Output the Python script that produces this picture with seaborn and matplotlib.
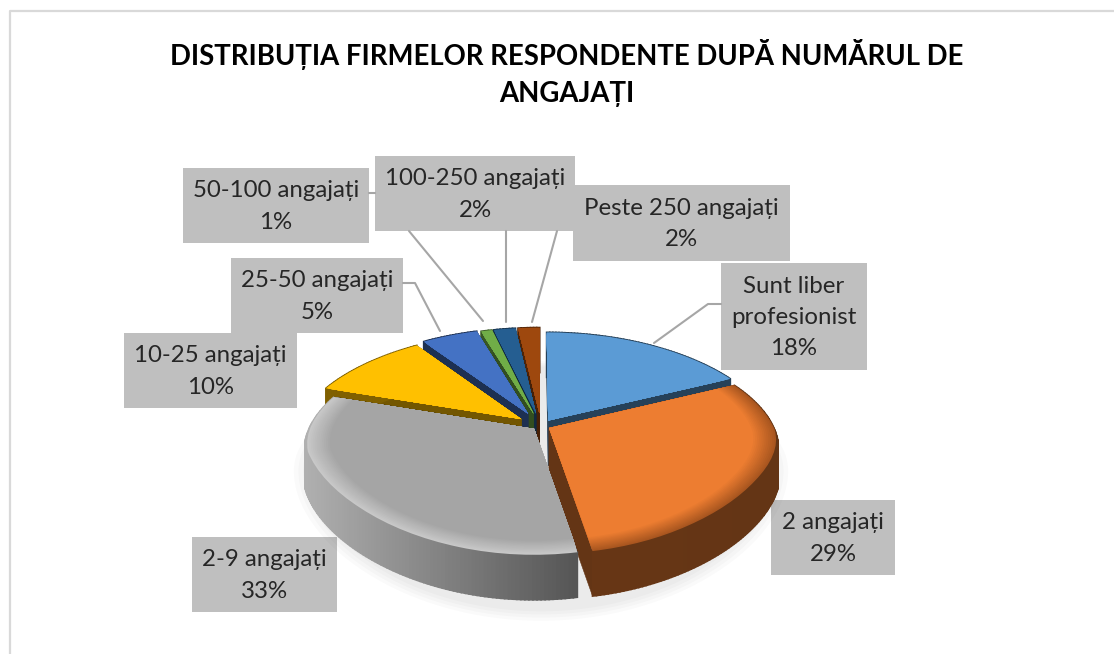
import numpy as np
import seaborn as sns
import matplotlib
matplotlib.use("Agg")
import matplotlib.pyplot as plt
from matplotlib.patches import Rectangle
from matplotlib.transforms import Transform

titlu = "DISTRIBUȚIA FIRMELOR RESPONDENTE DUPĂ NUMĂRUL DE\nANGAJAȚI"
categorii = ["Sunt liber\nprofesionist", "2 angajați", "2-9 angajați", "10-25 angajați",
             "25-50 angajați", "50-100 angajați", "100-250 angajați", "Peste 250 angajați"]
procente = [18, 29, 33, 10, 5, 1, 2, 2]

culori = ["#5B9BD5", "#ED7D31", "#A5A5A5", "#FFC000", "#4472C4", "#70AD47", "#255E91", "#9E480E"]
margine = ["#5B9BD5", "#A9561F", "#C8C8C8", "#FFC000", "#4472C4", "#70AD47", "#255E91", "#9E480E"]
lateral_st = [0.42, 0.46, 1.08, 0.5, 0.42, 0.5, 0.5, 0.5]
lateral_dr = [0.42, 0.42, 0.10, 0.5, 0.42, 0.5, 0.5, 0.5]
explozie = [0.06, 0.04, 0.04, 0.11, 0.13, 0.12, 0.12, 0.12]
ordine = [7, 6, 5, 4, 3, 0, 1, 2]

# cutiile etichetelor, in pixeli: x0, y0, x1, y1
cutii = [(721, 263, 867, 370), (771, 500, 895, 575), (192, 537, 337, 612), (124, 333, 297, 408),
         (231, 258, 403, 333), (183, 168, 369, 243), (375, 156, 575, 231), (573, 185, 790, 261)]
linii = [[(654, 343), (708, 304), (721, 304)],
         [(403, 283), (415, 283), (440, 331)],
         [(369, 193), (375, 193)],
         [(409, 231), (483, 321)],
         [(506, 231), (506, 322)],
         [(557, 231), (532, 322)]]

sns.set_theme(style="white")
plt.rcParams["font.family"] = ["Lato", "DejaVu Sans"]
paleta = sns.color_palette(culori)
paleta_m = sns.color_palette(margine)

W, H = 1114, 654
fig = plt.figure(figsize=(W / 100, H / 100), dpi=100, facecolor="white")

# strat de fundal in pixeli, pentru chenar si etichete
fundal = fig.add_axes([0, 0, 1, 1], zorder=1)
fundal.set_xlim(0, W)
fundal.set_ylim(H, 0)
fundal.axis("off")
fundal.plot([9.5, 9.5, W], [H, 11, 11], color="#D9D9D9", lw=1.6)
fundal.text(567, 73, titlu, ha="center", va="center", fontsize=19.8, fontweight="bold",
            color="black", linespacing=1.55)
for x0, y0, x1, y1 in cutii:
    fundal.add_patch(Rectangle((x0, y0), x1 - x0, y1 - y0, facecolor="#BFBFBF", edgecolor="none"))
for ln in linii:
    fundal.plot(*zip(*ln), color="#A6A6A6", lw=1.5)
for (x0, y0, x1, y1), cat, val in zip(cutii, categorii, procente):
    fundal.text((x0 + x1) / 2, (y0 + y1) / 2 + 1, f"{cat}\n{val}%", ha="center", va="center",
                fontsize=17.3, color="#262626", linespacing=1.6)

# placinta, cu perspectiva data de scara lui y
CX, CY, RX = 541, 426, 231
ADANCIME = 45


def f(y):
    return 107.5 * np.asarray(y, dtype=float) - 17.5 * np.asarray(y, dtype=float) ** 2


def finv(v):
    return (107.5 - np.sqrt(np.maximum(107.5 ** 2 - 70 * np.asarray(v, dtype=float), 0))) / 35


def ingustare(y):
    return 1 - 0.2 * np.clip(np.asarray(y, dtype=float) + 0.15, 0, None)


class Perspectiva(Transform):
    # spatele placintei e mai ingust
    input_dims = 2
    output_dims = 2

    def transform_non_affine(self, values):
        v = np.array(values, dtype=float)
        v[:, 0] *= ingustare(v[:, 1])
        return v


def coborat(x, y):
    # punctul de jos al grosimii, pe aceeasi verticala pe ecran
    yb = finv(f(y) - ADANCIME)
    return x * ingustare(y) / ingustare(yb), yb


ax = fig.add_axes([290 / W, 1 - 640 / H, 500 / W, 330 / H], zorder=2)
ax.patch.set_alpha(0)
trans = Perspectiva() + ax.transData


def pie(raza, cols):
    w, _ = ax.pie(procente, explode=explozie, colors=cols, radius=raza, startangle=90,
                  counterclock=False, frame=True, wedgeprops=dict(linewidth=0, edgecolor="none"))
    return w


# umbra foarte slaba de sub placinta
for r in (1.07, 1.05, 1.03, 1.01):
    umbra, _ = ax.pie([sum(procente)], center=(0.0, float(finv(-ADANCIME))), radius=r, colors=["black"],
                      frame=True, wedgeprops=dict(linewidth=0, edgecolor="none", alpha=0.018))
    umbra[0].set_transform(trans)
    umbra[0].set_zorder(0)

# raza descrescatoare: marginea tesita a fetei de sus
pasi = 12
for k in range(pasi + 1):
    t = k / pasi
    raza = 1 - 0.1 * t
    cols = [tuple((1 - t) * np.array(m) + t * np.array(c)) for m, c in zip(paleta_m, paleta)]
    wedges = pie(raza, cols)
    for rang, i in enumerate(ordine):
        wedges[i].set_zorder(10 * rang + 2 + k * 0.1)
        wedges[i].set_transform(trans)
        if k == 0:
            w = wedges[i]
            cx, cy = w.center
            baza = np.array(paleta[i])
            zs = 10 * rang + 1
            xa, ya = coborat(cx, cy)
            for th in (w.theta1, w.theta2):
                xe = cx + np.cos(np.radians(th))
                ye = cy + np.sin(np.radians(th))
                xb, yb = coborat(xe, ye)
                fata = ax.fill([cx, xe, xb, xa], [cy, ye, yb, ya],
                               color=baza * min(lateral_st[i], lateral_dr[i], 0.45), lw=0.4, zorder=zs)
                fata[0].set_transform(trans)
            unghiuri = np.linspace(w.theta1, w.theta2, max(int(w.theta2 - w.theta1), 2) + 1)
            for a, b in zip(unghiuri[:-1], unghiuri[1:]):
                xs = cx + np.cos(np.radians([a, b]))
                ys = cy + np.sin(np.radians([a, b]))
                xj, yj = coborat(xs, ys)
                frac = (xs.mean() + 1.05) / 2.1
                fact = lateral_st[i] + (lateral_dr[i] - lateral_st[i]) * frac
                col = tuple(np.clip(baza * fact, 0, 1))
                lat = ax.fill([xs[0], xs[1], xj[1], xj[0]], [ys[0], ys[1], yj[1], yj[0]],
                              color=col, lw=1.2, zorder=zs + 0.5)
                lat[0].set_transform(trans)

ax.set_aspect("auto")
ax.set_yscale("function", functions=(f, finv))
ax.set_xlim((290 - CX) / RX, (790 - CX) / RX)
ax.set_ylim(finv(CY - 640), finv(CY - 310))
ax.set_xticks([])
ax.set_yticks([])
ax.minorticks_off()
for s in ax.spines.values():
    s.set_visible(False)

fig.savefig("out.png", dpi=100)
